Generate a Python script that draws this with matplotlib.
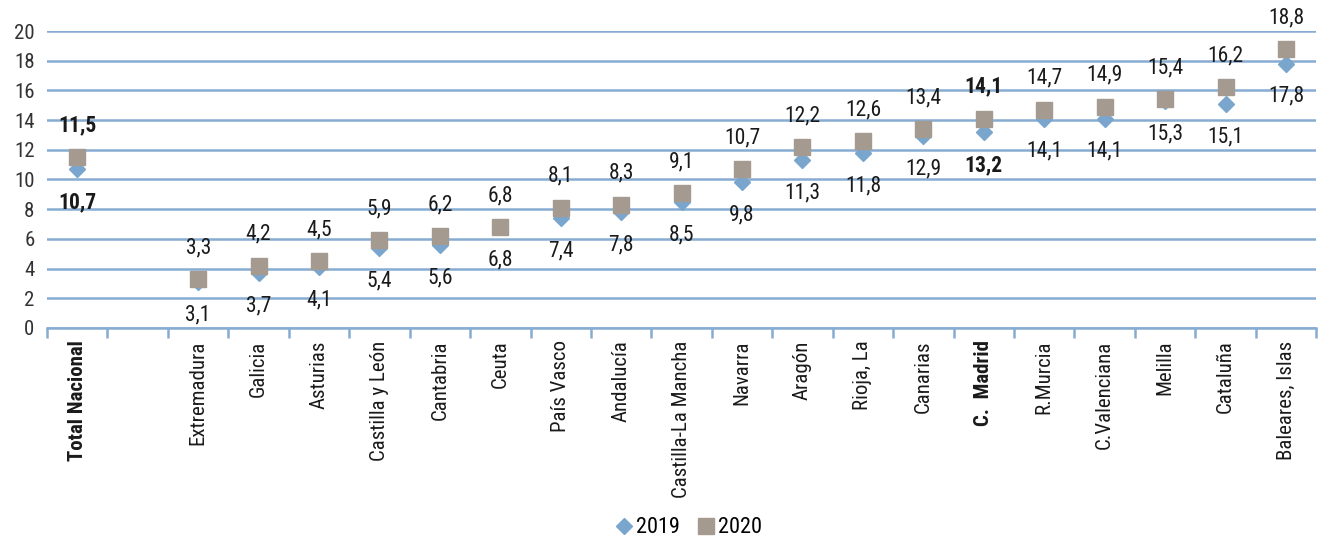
import numpy as np
import matplotlib
matplotlib.use("Agg")
import matplotlib.pyplot as plt
from matplotlib.ticker import FixedLocator

plt.rcParams['font.family'] = ['Roboto Condensed', 'DejaVu Sans']

categories = ['Total Nacional', '', 'Extremadura', 'Galicia', 'Asturias', 'Castilla y León',
              'Cantabria', 'Ceuta', 'País Vasco', 'Andalucía', 'Castilla-La Mancha', 'Navarra',
              'Aragón', 'Rioja, La', 'Canarias', 'C.  Madrid', 'R.Murcia', 'C.Valenciana',
              'Melilla', 'Cataluña', 'Baleares, Islas']
v2019 = [10.7, np.nan, 3.1, 3.7, 4.1, 5.4, 5.6, 6.8, 7.4, 7.8, 8.5, 9.8, 11.3, 11.8, 12.9,
         13.2, 14.1, 14.1, 15.3, 15.1, 17.8]
v2020 = [11.5, np.nan, 3.3, 4.2, 4.5, 5.9, 6.2, 6.8, 8.1, 8.3, 9.1, 10.7, 12.2, 12.6, 13.4,
         14.1, 14.7, 14.9, 15.4, 16.2, 18.8]
bold_cats = {'Total Nacional', 'C.  Madrid'}

c19 = '#7AA6CE'
c20 = '#A49A8F'
grid_c = '#86ACD2'

fig = plt.figure(figsize=(13.22, 5.54), dpi=100)
ax = fig.add_axes([0.0356, 0.408, 0.960, 0.536])
x = np.arange(len(categories))

ax.set_ylim(0, 20)
ax.set_xlim(-0.5, len(categories) - 0.5)
ax.set_yticks(np.arange(0, 21, 2))
ax.yaxis.grid(True, color=grid_c, linewidth=1.8)
ax.set_axisbelow(True)
for s in ['left', 'right', 'top']:
    ax.spines[s].set_visible(False)
ax.spines['bottom'].set_color(grid_c)
ax.spines['bottom'].set_linewidth(1.8)
ax.tick_params(axis='y', length=0, labelsize=15, labelcolor='#333333', pad=9)

ax.set_xticks(x)
ax.set_xticklabels(categories, rotation=90, fontsize=15, va='top')
ax.tick_params(axis='x', which='major', length=0, pad=9)
ax.xaxis.set_minor_locator(FixedLocator(np.arange(-0.5, len(categories), 1)))
ax.tick_params(axis='x', which='minor', length=7, width=1.8, color=grid_c, direction='out')
for lbl, c in zip(ax.get_xticklabels(), categories):
    lbl.set_color('#1a1a1a')
    if c in bold_cats:
        lbl.set_fontweight('bold')

ax.plot(x, v2019, linestyle='none', marker='D', markersize=8.5, color=c19, label='2019',
        clip_on=False, zorder=3)
ax.plot(x, v2020, linestyle='none', marker='s', markersize=11, color=c20, label='2020',
        clip_on=False, zorder=4)

def fmt(v):
    return f'{v:.1f}'.replace('.', ',')

for xi, a, b, c in zip(x, v2019, v2020, categories):
    if np.isnan(a):
        continue
    w = 'bold' if c in bold_cats else 'normal'
    ax.annotate(fmt(b), (xi, b), xytext=(0, 15), textcoords='offset points',
                ha='center', va='bottom', fontsize=15.5, fontweight=w, color='#1a1a1a')
    ax.annotate(fmt(a), (xi, a), xytext=(0, -16), textcoords='offset points',
                ha='center', va='top', fontsize=15.5, fontweight=w, color='#1a1a1a')

fig.legend(loc='lower center', bbox_to_anchor=(0.520, -0.008), ncol=2, frameon=False,
           fontsize=16, handletextpad=0.05, columnspacing=0.7, handlelength=1.0)

fig.savefig('out.png', dpi=100)
